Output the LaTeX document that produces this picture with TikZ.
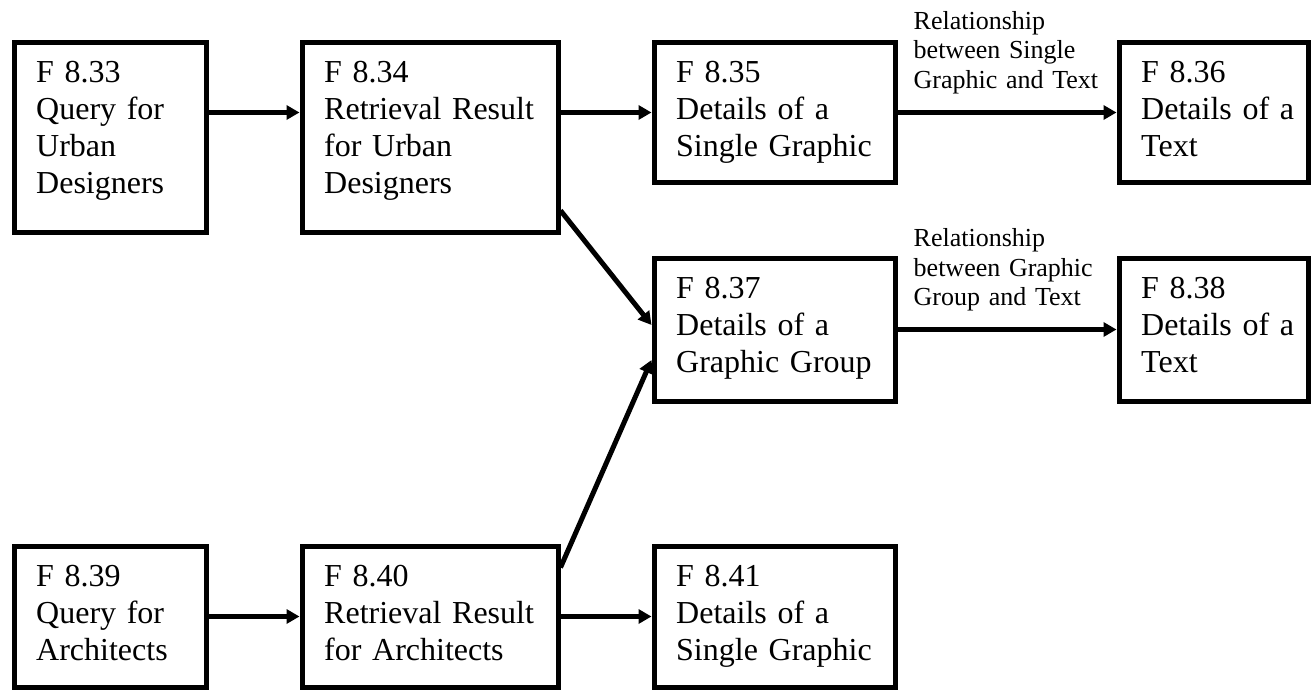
\documentclass[tikz,border=0pt]{standalone}
\usepackage{fontspec}
\setmainfont{Liberation Serif}
\usetikzlibrary{arrows.meta,calc}
\begin{document}
\begin{tikzpicture}[x=1pt,y=-1pt,
  box/.style={draw, line width=5pt, inner sep=0pt, anchor=north west},
  txt/.style={anchor=base west, inner sep=0pt, align=left, font=\fontsize{32pt}{37pt}\selectfont},
  rel/.style={anchor=base west, inner sep=0pt, align=left, text width=190pt, font=\fontsize{26pt}{29.5pt}\selectfont},
  arr/.style={line width=5pt, -{Triangle[length=13pt,width=14pt]}}]
\useasboundingbox (0,0) rectangle (1312,690);

% boxes
\node[box, minimum width=192pt, minimum height=189pt] (b1) at (11.5,40.5) {};
\node[box, minimum width=256pt, minimum height=189pt] (b2) at (299.5,40.5) {};
\node[box, minimum width=241pt, minimum height=139pt] (b3) at (651.5,40.5) {};
\node[box, minimum width=189pt, minimum height=139pt] (b4) at (1116.5,40.5) {};
\node[box, minimum width=241pt, minimum height=143pt] (b5) at (651.5,255.5) {};
\node[box, minimum width=189pt, minimum height=143pt] (b6) at (1116.5,255.5) {};
\node[box, minimum width=192pt, minimum height=141pt] (b7) at (11.5,543.5) {};
\node[box, minimum width=256pt, minimum height=141pt] (b8) at (299.5,543.5) {};
\node[box, minimum width=241pt, minimum height=141pt] (b9) at (651.5,543.5) {};

% texts
\node[txt, text width=160pt] (t1) at ($(b1.north west)+(24.5,42.5)$) {F 8.33\\Query for\\Urban\\Designers};
\node[txt, text width=225pt] (t2) at ($(b2.north west)+(24.5,42.5)$) {F 8.34\\Retrieval Result\\for Urban\\Designers};
\node[txt, text width=210pt] (t3) at ($(b3.north west)+(24.5,42.5)$) {F 8.35\\Details of a\\Single Graphic};
\node[txt, text width=160pt] (t4) at ($(b4.north west)+(24.5,42.5)$) {F 8.36\\Details of a\\Text};
\node[txt, text width=210pt] (t5) at ($(b5.north west)+(24.5,42.5)$) {F 8.37\\Details of a\\Graphic Group};
\node[txt, text width=160pt] (t6) at ($(b6.north west)+(24.5,42.5)$) {F 8.38\\Details of a\\Text};
\node[txt, text width=160pt] (t7) at ($(b7.north west)+(24.5,42.5)$) {F 8.39\\Query for\\Architects};
\node[txt, text width=225pt] (t8) at ($(b8.north west)+(24.5,42.5)$) {F 8.40\\Retrieval Result\\for Architects};
\node[txt, text width=210pt] (t9) at ($(b9.north west)+(24.5,42.5)$) {F 8.41\\Details of a\\Single Graphic};

% connectors
\draw[arr] (b1.east |- b3.west) -- (b2.west |- b3.west);
\draw[arr] (b2.east |- b3.west) -- (b3.west);
\draw[arr] (b3.east) -- (b4.west);
\draw[arr] (b5.east) -- (b6.west);
\draw[arr] ([yshift=24pt]b2.south east) -- ([yshift=4.5pt]b5.west);
\draw[arr] ([yshift=-24pt]b8.north east) -- ([yshift=-30.5pt]b5.west);
\draw[arr] (b7.east) -- (b8.west);
\draw[arr] (b8.east) -- (b9.west);

% labels
\node[rel] (l1) at ($(b3.east)+(16,-83)$) {Relationship\\between Single\\Graphic and Text};
\node[rel] (l2) at ($(b5.east)+(16,-83)$) {Relationship\\between Graphic\\Group and Text};
\end{tikzpicture}
\end{document}
